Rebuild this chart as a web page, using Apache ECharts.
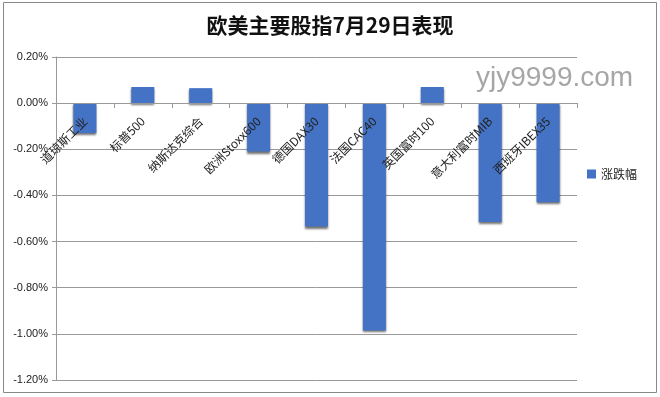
<!DOCTYPE html>
<html>
<head>
<meta charset="utf-8">
<script src="https://cdn.jsdelivr.net/npm/echarts@6/dist/echarts.min.js"></script>
<style>
  html, body { margin: 0; padding: 0; background: #fff; }
  #chart { width: 660px; height: 397px; }
</style>
</head>
<body>
<div id="chart"></div>
<script>
// 指数名称
var categories = ['道琼斯工业', '标普500', '纳斯达克综合', '欧洲Stoxx600', '德国DAX30',
                  '法国CAC40', '英国富时100', '意大利富时MIB', '西班牙IBEX35'];
// 涨跌幅 (%)
var changes = [-0.13, 0.07, 0.065, -0.21, -0.535, -0.985, 0.07, -0.515, -0.43];
var seriesName = '涨跌幅';
var titleText = '欧美主要股指7月29日表现';
var watermark = 'yjy9999.com';

var gridTop = 57, gridBottom = 17, yMin = -1.2, yMax = 0.2;
var plotH = 397 - gridTop - gridBottom;
// 把横轴整体移到0线处(标签贴着0线)
var zeroOffset = -Math.round(plotH * (0 - yMin) / (yMax - yMin));

var chart = echarts.init(document.getElementById('chart'));

var option = {
    animation: false,
    title: {
        text: titleText,
        left: 'center',
        top: 10,
        textStyle: {
            fontFamily: 'Noto Sans CJK SC',
            fontSize: 21,
            fontWeight: 'bold',
            color: '#111'
        }
    },
    legend: {
        data: [seriesName],
        orient: 'vertical',
        left: 582,
        top: 163,
        itemWidth: 9,
        itemHeight: 9,
        itemGap: 4,
        icon: 'rect',
        textStyle: { fontFamily: 'Noto Sans CJK SC', fontSize: 12, color: '#222' }
    },
    grid: {
        left: 56,
        right: 83,
        top: gridTop,
        bottom: gridBottom,
        containLabel: false,
        outerBoundsMode: 'none'
    },
    xAxis: {
        type: 'category',
        data: categories,
        position: 'bottom',
        offset: zeroOffset,
        z: 10,
        axisLine: { onZero: false, lineStyle: { color: '#999', width: 1 } },
        axisTick: { show: true, alignWithLabel: false, length: 5, lineStyle: { color: '#999' } },
        axisLabel: {
            rotate: 45,
            interval: 0,
            margin: 16,
            fontFamily: 'Noto Sans CJK SC',
            fontSize: 12,
            color: '#222'
        }
    },
    yAxis: {
        type: 'value',
        min: yMin,
        max: yMax,
        interval: 0.2,
        axisLine: { show: true, lineStyle: { color: '#999', width: 1 } },
        axisTick: { show: true, length: 4, lineStyle: { color: '#999' } },
        axisLabel: {
            formatter: function (v) { return v.toFixed(2) + '%'; },
            fontFamily: 'Liberation Sans',
            fontSize: 11,
            color: '#222',
            margin: 8
        },
        splitLine: { lineStyle: { color: '#999', width: 1 } }
    },
    series: [{
        name: seriesName,
        type: 'bar',
        data: changes,
        barWidth: 23,
        itemStyle: {
            color: '#4472c4',
            shadowColor: 'rgba(0,0,0,0.55)',
            shadowOffsetY: 2,
            shadowBlur: 2
        }
    }],
    graphic: [
        {
            type: 'rect',
            shape: { x: 3.5, y: 2.5, width: 653, height: 390 },
            style: { fill: 'none', stroke: '#888', lineWidth: 1 },
            silent: true
        },
        {
            type: 'text',
            left: 476,
            top: 64,
            z: 100,
            style: {
                text: watermark,
                fontFamily: 'Liberation Sans',
                fontSize: 28,
                fill: 'rgba(150,150,150,0.85)'
            }
        }
    ]
};

chart.setOption(option);
</script>
</body>
</html>
